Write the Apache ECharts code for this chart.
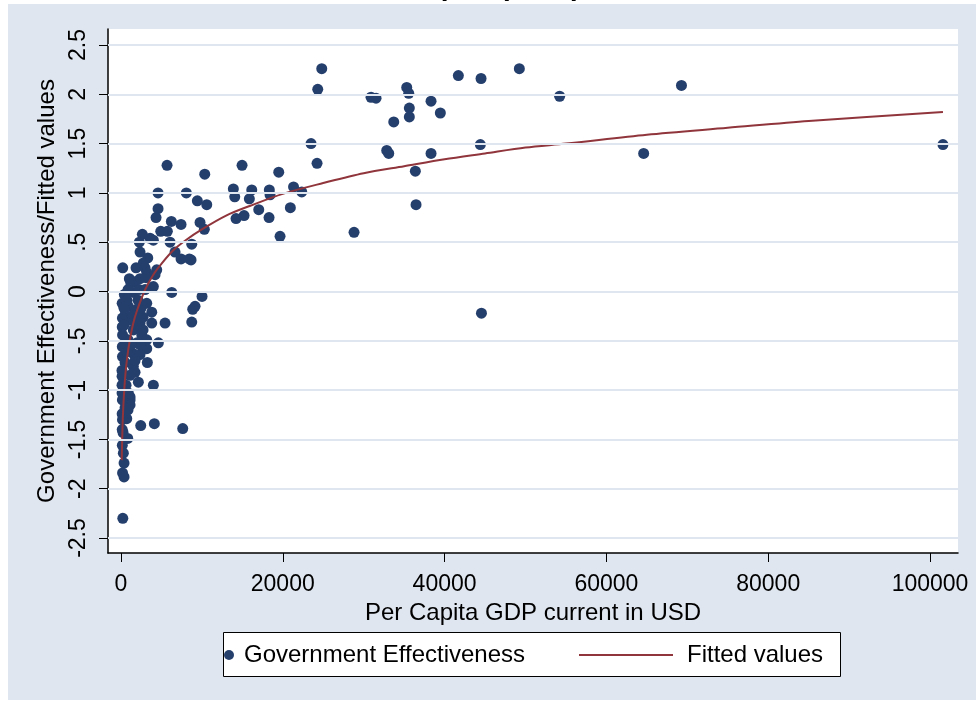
<!DOCTYPE html>
<html>
<head>
<meta charset="utf-8">
<script src="https://cdn.jsdelivr.net/npm/echarts@6/dist/echarts.min.js"></script>
<style>
html,body{margin:0;padding:0;background:#fff;}
#c{width:976px;height:708px;}
</style>
</head>
<body>
<div id="c"></div>
<script>
const titleText = 'Scatter plot (2010)';
const xName = 'Per Capita GDP current in USD';
const yName = 'Government Effectiveness/Fitted values';
const seriesNames = ['Government Effectiveness', 'Fitted values'];
const xTicks = [0, 20000, 40000, 60000, 80000, 100000];
const yTicks = [-2.5, -2, -1.5, -1, -0.5, 0, 0.5, 1, 1.5, 2, 2.5];
const yTickLabels = ['-2.5', '-2', '-1.5', '-1', '-.5', '0', '.5', '1', '1.5', '2', '2.5'];

// Per capita GDP (USD) of each country
const gdp = [
  24819, 24324, 30912, 31530, 35325, 35572, 38328, 39478, 33718, 35646, 35646, 41703, 44508, 49242,
  54223, 69278, 23496, 24238, 32853, 33100, 38328, 36388, 36474, 44422, 28811, 64606, 101599, 44558,
  5698, 10358, 14968, 4586, 8083, 9443, 10605, 4586, 4338, 6229, 7428, 9777, 10308, 4919, 5735, 2645,
  3597, 4005, 6069, 13893, 14066, 16167, 15870, 17032, 14226, 15215, 18342, 18429, 19504, 18305, 21333,
  22347, 20938, 19665, 8751, 8664, 10024, 9159, 8874, 8751,
  2274, 2361, 3312, 6687, 7428, 8454, 2769, 222, 1866, 2979, 3189, 4425, 1038, 2361, 4215, 1743, 3102,
  4005, 1211, 6279, 420, 1533, 150, 915, 3189, 3807, 3807, 5451, 2361, 180, 160, 200, 1533, 2571, 3189,
  4623, 3189, 170, 190, 1533, 2361, 3263, 1533, 2151, 130, 140, 4005, 717, 1125, 754, 1743, 507, 1125,
  1990, 878, 507, 1125, 630, 1743, 2361, 2732, 2114, 878, 2237, 2979, 2732, 1743, 136, 754, 383, 1866,
  1248, 383, 1496, 2484, 2114, 140, 915, 1125, 1125, 150, 717, 190, 2447, 4128, 7638, 160, 840, 170,
  297, 383, 200, 383, 230, 507, 260, 878, 180
];
// Government Effectiveness score of each country
const ge = [
  2.26, 2.05, 1.97, 1.96, 2.07, 2.01, 1.93, 1.81, 1.72, 1.86, 1.77, 2.19, 2.16, 2.26,
  1.98, 2.09, 1.50, 1.30, 1.43, 1.40, 1.40, 1.22, 0.88, 1.49, 0.60, 1.40, 1.49, -0.22,
  1.28, 1.19, 1.28, 1.00, 1.00, 0.92, 0.88, 0.84, 0.75, 0.71, 0.68, 0.70, 0.63, 0.61, 0.61, 0.58,
  0.54, 0.52, 0.50, 1.04, 0.96, 1.03, 0.94, 0.83, 0.74, 0.77, 1.03, 0.98, 1.21, 0.75, 1.06,
  1.01, 0.85, 0.56, 0.48, 0.32, -0.05, -0.15, -0.18, -0.31,
  0.50, 0.40, 0.34, 0.40, 0.33, 0.33, 0.29, 0.24, 0.24, 0.24, 0.19, 0.22, 0.13, 0.13, 0.17, 0.10, 0.14,
  0.05, 0.09, -0.01, -0.03, -0.01, -0.12, -0.15, -0.12, -0.21, -0.32, -0.32, -0.32, -0.27, -0.36, -0.44, -0.39, -0.44, -0.49,
  -0.52, -0.58, -0.56, -0.66, -0.63, -0.64, -0.72, -0.76, -0.92, -0.80, -0.86, -0.95, -1.03, -1.07, -0.09, -0.19, -0.24, -0.29,
  -0.52, -0.49, -0.72, -0.85, -0.95, -0.70, -0.54, -0.26, -0.09, 0.02, 0.02, 0.02, -0.39, -0.82, -0.95, -0.61, -0.34, -0.34,
  -0.54, -0.17, -0.24, -0.17, -0.27, -1.03, -1.03, -1.10, -1.15, -1.24, -1.29, -1.30, -1.36, -1.34, -1.39, -1.40, -1.49, -1.56,
  -1.64, -1.74, -1.84, -1.88, -2.30, -1.18, -1.43, -1.20, -1.10
];
// Fitted values curve
const fitGdp = [100, 120, 150, 200, 250, 300, 400, 500, 700, 1000, 1500, 2000, 3000, 4000, 5000, 6500, 8000,
  10000, 13000, 16000, 20000, 25000, 30000, 35000, 40000, 45000, 50000, 55000, 65000, 75000, 85000, 101599];
const fitValues = [-1.71, -1.62, -1.51, -1.36, -1.25, -1.15, -1.01, -0.89, -0.72, -0.54, -0.33, -0.19, 0.02, 0.17, 0.28, 0.42, 0.52,
  0.63, 0.77, 0.87, 0.99, 1.10, 1.20, 1.27, 1.34, 1.40, 1.46, 1.50, 1.59, 1.66, 1.73, 1.82];

const scatterData = gdp.map((g, i) => [g, ge[i]]);
const fitData = fitGdp.map((g, i) => [g, fitValues[i]]);

const FONT = '"Liberation Sans", Arial, Helvetica, sans-serif';
const NAVY = '#253f6d';
const MAROON = '#90353b';
const BG = '#e0e6ef';

const chart = echarts.init(document.getElementById('c'), null, {renderer: 'canvas'});
chart.setOption({
  animation: false,
  backgroundColor: '#ffffff',
  textStyle: {fontFamily: FONT},
  title: {
    text: titleText,
    left: 338,
    top: -27,
    padding: 0,
    textStyle: {fontFamily: FONT, fontSize: 28, fontWeight: 'bold', color: '#000'}
  },
  graphic: [
    {type: 'rect', z: -10, silent: true, shape: {x: 8, y: 4, width: 968, height: 696}, style: {fill: BG}},
    {type: 'rect', z: 3, silent: true, shape: {x: 223.5, y: 632.5, width: 617, height: 44},
      style: {fill: '#ffffff', stroke: '#000000', lineWidth: 1}}
  ],
  grid: {left: 108, right: 18, top: 29, bottom: 155, show: true, backgroundColor: '#ffffff', borderWidth: 0, containLabel: false},
  legend: [
    {data: [{name: seriesNames[0], icon: 'circle'}], left: 224, top: 643, padding: 0, itemWidth: 20, itemHeight: 10,
      textStyle: {fontFamily: FONT, fontSize: 24, color: '#000'}, selectedMode: false},
    {data: [{name: seriesNames[1], icon: 'rect', itemStyle: {color: MAROON, borderWidth: 0}}], left: 579, top: 643, padding: 0, itemWidth: 94, itemHeight: 2,
      textStyle: {fontFamily: FONT, fontSize: 24, color: '#000', padding: [0, 0, 0, 9]}, selectedMode: false}
  ],
  xAxis: {
    type: 'value', min: -1600, max: 103460,
    name: xName, nameLocation: 'middle', nameGap: 42,
    nameTextStyle: {fontFamily: FONT, fontSize: 24, color: '#000'},
    axisLine: {show: true, onZero: false, lineStyle: {color: '#000', width: 1.5}},
    axisTick: {show: true, inside: false, length: 9, customValues: xTicks, lineStyle: {color: '#000', width: 1}},
    axisLabel: {customValues: xTicks, margin: 20, fontFamily: FONT, fontSize: 23, color: '#000',
      formatter: function (v) { return String(Math.round(v)); }},
    splitLine: {show: false}
  },
  yAxis: {
    type: 'value', min: -2.652, max: 2.662,
    name: yName, nameLocation: 'middle', nameGap: 47,
    nameTextStyle: {fontFamily: FONT, fontSize: 24, color: '#000'},
    axisLine: {show: true, onZero: false, lineStyle: {color: '#000', width: 1.5}},
    axisTick: {show: true, inside: false, length: 9, customValues: yTicks, lineStyle: {color: '#000', width: 1}},
    axisLabel: {
      customValues: yTicks, rotate: 90, margin: 18, fontFamily: FONT, fontSize: 23, color: '#000',
      formatter: function (v) {
        for (let i = 0; i < yTicks.length; i++) { if (Math.abs(yTicks[i] - v) < 1e-6) return yTickLabels[i]; }
        return '';
      }
    },
    splitLine: {show: false}
  },
  series: [
    {
      type: 'line', name: '__grid', data: [], z: 1, silent: true, legendHoverLink: false,
      markLine: {
        silent: true, symbol: ['none', 'none'], label: {show: false}, animation: false,
        lineStyle: {color: BG, width: 2, type: 'solid'},
        emphasis: {disabled: true},
        data: yTicks.map(v => ({yAxis: v}))
      }
    },
    {
      type: 'scatter', name: seriesNames[0], data: scatterData, symbol: 'circle', symbolSize: 11, z: 2,
      itemStyle: {color: NAVY, opacity: 1}
    },
    {
      type: 'line', name: seriesNames[1], data: fitData, symbol: 'none', showSymbol: false, smooth: 0.3, z: 3,
      lineStyle: {color: MAROON, width: 2}, itemStyle: {color: MAROON}
    }
  ]
});
</script>
</body>
</html>
